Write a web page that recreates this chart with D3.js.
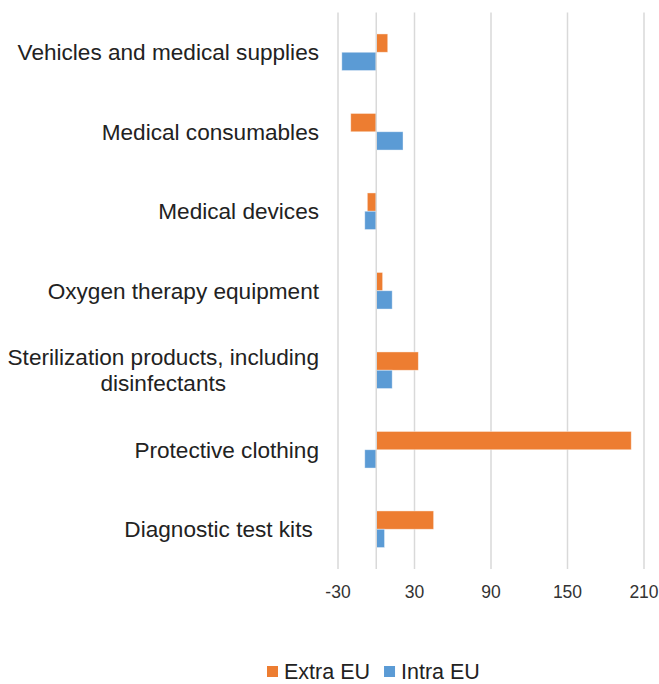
<!DOCTYPE html>
<html>
<head>
<meta charset="utf-8">
<script src="https://cdn.jsdelivr.net/npm/d3@7"></script>
<style>
  html, body { margin: 0; padding: 0; background: #fff; }
  svg { display: block; font-family: "Liberation Sans", Arial, sans-serif; }
</style>
</head>
<body>
<svg id="chart"></svg>
<script>
// Data (change in %)
const categories = [
  ["Vehicles and medical supplies"],
  ["Medical consumables"],
  ["Medical devices"],
  ["Oxygen therapy equipment"],
  ["Sterilization products, including", "disinfectants"],
  ["Protective clothing"],
  ["Diagnostic test kits "]
];
const extraEU = [9, -20, -7, 5, 33, 200, 45];
const intraEU = [-27, 21, -9, 12.5, 12.5, -9, 6.5];
const tickValues = [-30, 30, 90, 150, 210];
const seriesNames = ["Extra EU", "Intra EU"];
const seriesColors = ["#ed7d31", "#5b9bd5"];

const width = 659;
const height = 684;

const svg = d3.select("#chart")
    .attr("width", width)
    .attr("height", height);

// Scales
const x = d3.scaleLinear()
    .domain([-30, 210])
    .range([338, 644]);

const y = d3.scaleBand()
    .domain(d3.range(categories.length))
    .range([12.5, 569])
    .padding(0);

const barH = 18.3;

// Gridlines
svg.append("g")
    .selectAll("line")
    .data(tickValues)
    .join("line")
    .attr("x1", d => x(d))
    .attr("x2", d => x(d))
    .attr("y1", y.range()[0])
    .attr("y2", y.range()[1])
    .attr("stroke", "#d9d9d9")
    .attr("stroke-width", 1.5);

// Tick labels
svg.append("g")
    .selectAll("text")
    .data(tickValues)
    .join("text")
    .attr("x", d => x(d))
    .attr("y", 592)
    .attr("dy", "0.35em")
    .attr("text-anchor", "middle")
    .style("font-size", "17.5px")
    .style("fill", "#333")
    .text(d => d);

// Bars
const series = [extraEU, intraEU];
series.forEach((vals, s) => {
    svg.append("g")
        .selectAll("rect")
        .data(vals)
        .join("rect")
        .attr("x", d => x(Math.min(0, d)))
        .attr("width", d => Math.abs(x(d) - x(0)))
        .attr("y", (d, i) => y(i) + y.bandwidth() / 2 - barH + s * barH)
        .attr("height", barH)
        .attr("fill", seriesColors[s])
        .attr("stroke", "#fff")
        .attr("stroke-opacity", 0.5)
        .attr("stroke-width", 0.8);
});

// Category axis line at zero
svg.append("line")
    .attr("x1", x(0))
    .attr("x2", x(0))
    .attr("y1", y.range()[0])
    .attr("y2", y.range()[1])
    .attr("stroke", "#d9d9d9")
    .attr("stroke-width", 1.5);

// Category labels (centred block, right edge at 319)
const lineH = 26;
const labelRight = 319;
const labels = svg.append("g")
    .selectAll("text")
    .data(categories)
    .join("text")
    .attr("text-anchor", "middle")
    .style("font-size", "22.6px")
    .style("fill", "#222")
    .style("white-space", "pre");

labels.each(function(lines, i) {
    const t = d3.select(this);
    const cy = y(i) + y.bandwidth() / 2;
    lines.forEach((ln, j) => {
        t.append("tspan")
            .attr("y", cy + (j - (lines.length - 1) / 2) * lineH)
            .attr("dy", "0.35em")
            .text(ln);
    });
    const w = d3.max(t.selectAll("tspan").nodes(), n => n.getComputedTextLength());
    t.selectAll("tspan").attr("x", labelRight - w / 2);
});

// Legend
const legend = svg.append("g");
let lx = 267;
seriesNames.forEach((name, s) => {
    legend.append("rect")
        .attr("x", lx)
        .attr("y", 666)
        .attr("width", 11)
        .attr("height", 11)
        .attr("fill", seriesColors[s]);
    const txt = legend.append("text")
        .attr("x", lx + 17)
        .attr("y", 671)
        .attr("dy", "0.35em")
        .style("font-size", "21.5px")
        .style("fill", "#222")
        .text(name);
    lx += 17 + txt.node().getComputedTextLength() + 14;
});
</script>
</body>
</html>
